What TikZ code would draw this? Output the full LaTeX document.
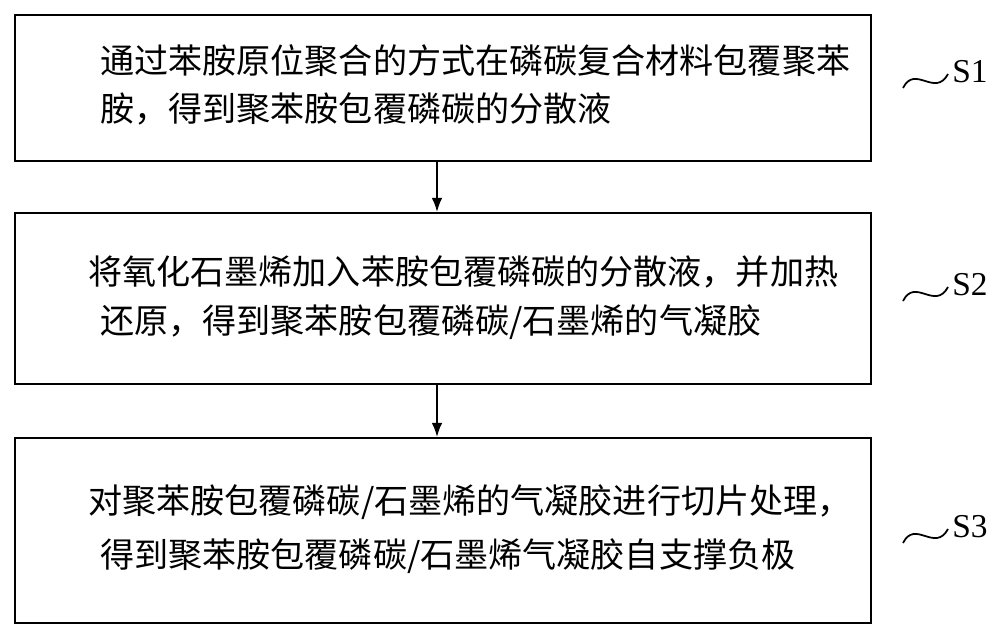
\documentclass[tikz,border=0pt]{standalone}
\usepackage{fontspec}
\newfontfamily\cjk{Noto Sans CJK SC}
\newfontfamily\ser{Liberation Serif}
\begin{document}
\begin{tikzpicture}[x=0.02cm,y=-0.02cm,
  stepbox/.style={draw,line width=1.2pt},
  txt/.style={anchor=west,inner sep=0,font=\cjk\fontsize{19.4}{22}\selectfont},
  lab/.style={anchor=west,inner sep=0,font=\ser\fontsize{19}{22}\selectfont},
  arr/.style={-{Latex[length=8pt,width=6pt]},line width=1pt},
  wave/.style={line width=1pt}]
\usetikzlibrary{arrows.meta}
\useasboundingbox (0,0) rectangle (1000,634);
\node[stepbox,minimum width=856*0.02cm,minimum height=146*0.02cm,anchor=north west] (b1) at (14,14) {};
\node[stepbox,minimum width=856*0.02cm,minimum height=171*0.02cm,anchor=north west] (b2) at (14,212) {};
\node[stepbox,minimum width=856*0.02cm,minimum height=185*0.02cm,anchor=north west] (b3) at (14,437) {};
\node[txt] (t11) at (100,61) {通过苯胺原位聚合的方式在磷碳复合材料包覆聚苯};
\node[txt] (t12) at (100,109) {胺，得到聚苯胺包覆磷碳的分散液};
\node[txt] (t21) at (88,272) {将氧化石墨烯加入苯胺包覆磷碳的分散液，并加热};
\node[txt] (t22) at (100,322) {还原，得到聚苯胺包覆磷碳/石墨烯的气凝胶};
\node[txt] (t31) at (88,502) {对聚苯胺包覆磷碳/石墨烯的气凝胶进行切片处理，};
\node[txt] (t32) at (100,556) {得到聚苯胺包覆磷碳/石墨烯气凝胶自支撑负极};
\draw[arr] (b1.south -| 437,0) -- (b2.north -| 437,0);
\draw[arr] (b2.south -| 437,0) -- (b3.north -| 437,0);
\foreach \y/\n in {80/1,293/2,535/3}{
  \coordinate (w\n a) at (903,\y+8);
  \coordinate (w\n b) at (948,\y-6);
  \draw[wave] (w\n a) .. controls (915,\y-16) and (935,\y+18) .. (w\n b);
  \node[lab] (s\n) at (952,\y-8) {S\n};
}
\end{tikzpicture}
\end{document}
